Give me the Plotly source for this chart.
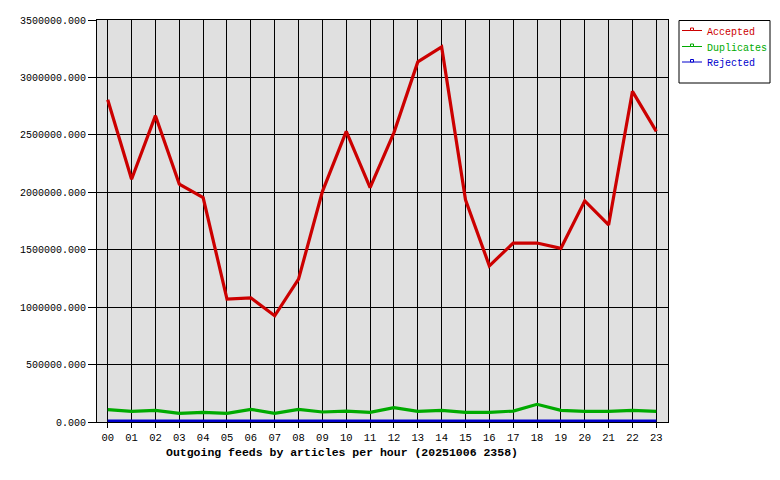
import plotly.graph_objects as go

hours = ["00","01","02","03","04","05","06","07","08","09","10","11",
         "12","13","14","15","16","17","18","19","20","21","22","23"]

accepted = [2806000, 2114000, 2667000, 2071000, 1954000, 1070000, 1081000, 925000,
            1244000, 2006000, 2530000, 2040000, 2520000, 3135000, 3266000, 1934000,
            1360000, 1558000, 1558000, 1512000, 1925000, 1716000, 2879000, 2530000]

duplicates = [107000, 92000, 101000, 75000, 84000, 75000, 110000, 75000,
              110000, 87000, 95000, 84000, 125000, 92000, 101000, 84000,
              84000, 95000, 154000, 101000, 92000, 92000, 101000, 92000]

rejected = [8000, 8000, 8000, 8000, 8000, 8000, 8000, 8000,
            8000, 8000, 8000, 8000, 8000, 8000, 8000, 8000,
            8000, 8000, 8000, 8000, 8000, 8000, 8000, 8000]

series_names = ["Accepted", "Duplicates", "Rejected"]
series_colors = ["#CC0000", "#00AA00", "#0000CC"]
title_text = "Outgoing feeds by articles per hour (20251006 2358)"

W, H = 780, 480
L, R, T, B = 97, 112, 20, 58
pw, ph = W - L - R, H - T - B

def px(x):
    return (x - L) / pw

def py(y):
    return (H - B - y) / ph

xs = list(range(len(hours)))
fig = go.Figure()
for name, vals, col in zip(series_names, [accepted, duplicates, rejected], series_colors):
    fig.add_trace(go.Scatter(x=xs, y=vals, mode="lines", name=name,
                             line=dict(color=col, width=3.2), showlegend=False))

mono = "Liberation Mono, DejaVu Sans Mono, monospace"

fig.update_layout(
    width=W, height=H,
    margin=dict(l=L, r=R, t=T, b=B, pad=0),
    paper_bgcolor="white", plot_bgcolor="#E0E0E0",
    font=dict(family=mono, size=10, color="black"),
    xaxis=dict(range=[-0.45, 23.49], tickvals=xs, ticktext=hours,
               showgrid=True, gridcolor="black", gridwidth=1,
               showline=True, linecolor="black", linewidth=1, mirror=True,
               ticks="outside", ticklen=5, tickcolor="black",
               zeroline=False, tickfont=dict(family=mono, size=10.5, color="black")),
    yaxis=dict(range=[0, 3500000], dtick=500000, tickformat=".3f",
               showgrid=True, gridcolor="black", gridwidth=1,
               showline=True, linecolor="black", linewidth=1, mirror=True,
               ticks="outside", ticklen=8, tickcolor="black",
               zeroline=False, tickfont=dict(family=mono, size=10, color="black")),
)

# title below chart
fig.add_annotation(text="<b>" + title_text + "</b>", xref="paper", yref="paper",
                   x=px(342), y=py(452), xanchor="center", yanchor="middle",
                   showarrow=False, font=dict(family=mono, size=11.5, color="black"))

# custom legend box
shapes = [dict(type="rect", xref="paper", yref="paper",
               x0=px(679), x1=px(770), y0=py(83), y1=py(20.5),
               line=dict(color="black", width=1), fillcolor="white", layer="above")]
line_ys = [30.5, 46.5, 62]
for name, col, ly in zip(series_names, series_colors, line_ys):
    shapes.append(dict(type="line", xref="paper", yref="paper",
                       x0=px(682), x1=px(702), y0=py(ly), y1=py(ly),
                       line=dict(color=col, width=1), layer="above"))
    shapes.append(dict(type="rect", xref="paper", yref="paper",
                       x0=px(690.5), x1=px(693.5), y0=py(ly), y1=py(ly - 2.5),
                       line=dict(color=col, width=1), fillcolor="white", layer="above"))
    fig.add_annotation(text=name, xref="paper", yref="paper",
                       x=px(705), y=py(ly + 1.8), xanchor="left", yanchor="middle",
                       showarrow=False, font=dict(family=mono, size=10, color=col))
fig.update_layout(shapes=shapes)

fig.write_html("out.html", config={"displayModeBar": False},
               post_script="document.body.style.margin='0';")
